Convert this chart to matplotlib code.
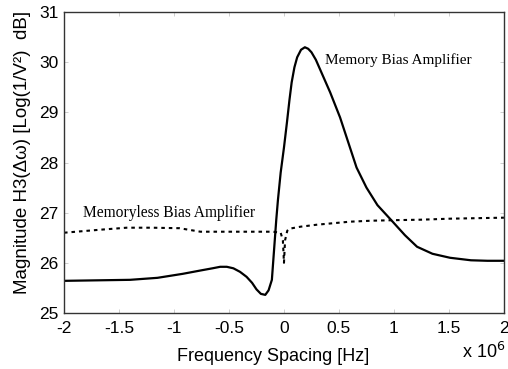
import matplotlib.pyplot as plt

# frequency spacing in units of 1e6 Hz
memory_x = [-2.0, -1.7, -1.4, -1.15, -0.92, -0.75, -0.65, -0.58, -0.52, -0.46, -0.40,
            -0.34, -0.29, -0.25, -0.21, -0.17, -0.14, -0.11, -0.09, -0.07, -0.055,
            -0.03, 0.0, 0.027, 0.05, 0.07, 0.095, 0.12, 0.155, 0.19, 0.22, 0.25, 0.29,
            0.33, 0.42, 0.51, 0.6, 0.66, 0.75, 0.85, 0.98, 1.1, 1.21, 1.35, 1.51, 1.7,
            1.85, 2.0]
memory_y = [25.64, 25.65, 25.66, 25.70, 25.78, 25.85, 25.89, 25.92, 25.92, 25.89, 25.82,
            25.72, 25.6, 25.47, 25.38, 25.36, 25.45, 25.66, 26.26, 26.86, 27.25,
            27.8, 28.3, 28.8, 29.25, 29.6, 29.9, 30.1, 30.25, 30.3, 30.27, 30.2, 30.05,
            29.85, 29.4, 28.9, 28.3, 27.9, 27.5, 27.15, 26.84, 26.55, 26.32, 26.18, 26.1,
            26.05, 26.04, 26.04]

memoryless_x = [-2.0, -1.67, -1.43, -1.2, -0.95, -0.76, -0.6, -0.46, -0.25, -0.1, -0.03,
                -0.01, 0.0, 0.01, 0.03, 0.05, 0.15, 0.3, 0.45, 0.6, 0.8, 1.0, 1.25, 1.51,
                1.75, 2.0]
memoryless_y = [26.6, 26.66, 26.70, 26.70, 26.69, 26.62, 26.62, 26.62, 26.62, 26.62, 26.6,
                26.45, 26.0, 26.45, 26.64, 26.68, 26.72, 26.76, 26.79, 26.82, 26.84, 26.85,
                26.86, 26.88, 26.89, 26.9]

x_ticks = [-2, -1.5, -1, -0.5, 0, 0.5, 1, 1.5, 2]
x_tick_labels = ['-2', '-1.5', '-1', '-0.5', '0', '0.5', '1', '1.5', '2']
y_ticks = [25, 26, 27, 28, 29, 30, 31]

plt.rcParams['font.family'] = ['Liberation Sans', 'DejaVu Sans']

fig = plt.figure(figsize=(5.08, 3.69), dpi=100)
ax = fig.add_axes([0.126, 0.152, 0.866, 0.815])

ax.plot(memory_x, memory_y, color='black', lw=1.6)
ax.plot(memoryless_x, memoryless_y, color='black', lw=1.5, linestyle=(0, (1.7, 1.9)))

ax.set_xlim(-2, 2)
ax.set_ylim(25, 31)
ax.set_xticks(x_ticks)
ax.set_xticklabels(x_tick_labels)
ax.set_yticks(y_ticks)
ax.tick_params(direction='in', length=3, width=0.5, color='#bbbbbb',
               top=True, right=True, labelsize=12.5)
ax.tick_params(axis='x', pad=6)
ax.tick_params(axis='y', pad=4)
for s in ax.spines.values():
    s.set_linewidth(1.0)
    s.set_color('#333333')

ax.set_xlabel('Frequency Spacing [Hz]', fontsize=13)
ax.set_ylabel('Magnitude H3(Δω) [Log(1/V²)  dB]', fontsize=13.5)
ax.xaxis.set_label_coords(0.475, -0.118)
ax.yaxis.set_label_coords(-0.075, 0.535)

ax.text(0.37, 30.05, 'Memory Bias Amplifier', family='Liberation Serif',
        fontsize=11, va='center', ha='left')
ax.text(-1.83, 27.0, 'Memoryless Bias Amplifier', family='Liberation Serif',
        fontsize=11.2, va='center', ha='left')

fig.text(0.909, 0.045, 'x 10$^6$', fontsize=13, ha='left', va='center')

fig.savefig('out.png', dpi=100)
